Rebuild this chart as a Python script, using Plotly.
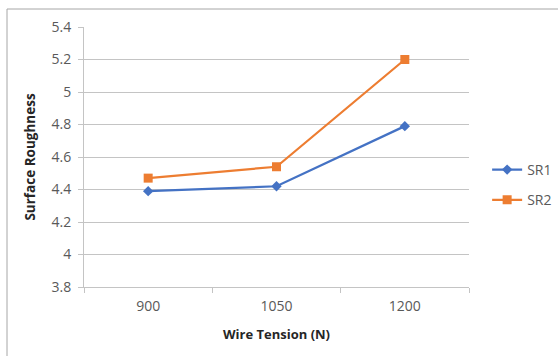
import plotly.graph_objects as go

# Wire tension categories and surface roughness readings
tension = ["900", "1050", "1200"]
sr1 = [4.39, 4.42, 4.79]
sr2 = [4.47, 4.54, 5.20]

y_ticks = [3.8, 4.0, 4.2, 4.4, 4.6, 4.8, 5.0, 5.2, 5.4]
y_tick_text = ["3.8", "4", "4.2", "4.4", "4.6", "4.8", "5", "5.2", "5.4"]

FONT = "Open Sans"
GRID = "#c4c4c4"
TEXT = "#595959"

fig = go.Figure()
fig.add_trace(go.Scatter(
    x=tension, y=sr1, name="SR1", mode="lines+markers", legendgroup="a",
    line=dict(color="#4472C4", width=2.25),
    marker=dict(symbol="diamond", size=8, color="#4472C4"),
))
fig.add_trace(go.Scatter(
    x=tension, y=sr2, name="SR2", mode="lines+markers", legendgroup="b",
    line=dict(color="#ED7D31", width=2.25),
    marker=dict(symbol="square", size=9, color="#ED7D31"),
))

fig.update_layout(
    width=558, height=356,
    margin=dict(l=84, r=89, t=27, b=69, autoexpand=False),
    paper_bgcolor="white", plot_bgcolor="white",
    font=dict(family=FONT, size=13, color=TEXT),
    showlegend=True,
    legend=dict(
        xref="container", yref="container",
        x=0.873, y=1 - 185 / 356, xanchor="left", yanchor="middle",
        font=dict(family=FONT, size=14, color=TEXT),
        tracegroupgap=9, itemwidth=30,
        bgcolor="rgba(0,0,0,0)",
    ),
    xaxis=dict(
        type="category",
        range=[-0.5, 2.5],
        showgrid=False,
        showline=True, linecolor=GRID, linewidth=1,
        ticks="outside", ticklen=5, tickcolor=GRID,
        tickson="boundaries",
        ticklabelstandoff=6,
        tickfont=dict(family=FONT, size=14, color=TEXT),
        title=dict(text="<b>Wire Tension (N)</b>",
                   font=dict(family=FONT, size=13, color="#262626"),
                   standoff=16),
    ),
    yaxis=dict(
        range=[3.8, 5.4],
        tickvals=y_ticks, ticktext=y_tick_text,
        showgrid=True, gridcolor=GRID, gridwidth=1,
        zeroline=False,
        showline=True, linecolor=GRID, linewidth=1,
        ticks="outside", ticklen=5, tickcolor=GRID,
        ticklabelstandoff=4,
        tickfont=dict(family=FONT, size=14, color=TEXT),
        title=dict(text="<b>Surface Roughness</b>",
                   font=dict(family=FONT, size=13.5, color="#262626"),
                   standoff=12),
    ),
)

# Chart frame (top and left edges)
fig.add_shape(type="line", xref="paper", yref="paper",
              x0=-77 / 385, x1=474 / 385, y0=278 / 260, y1=278 / 260,
              line=dict(color="#a6a6a6", width=1))
fig.add_shape(type="line", xref="paper", yref="paper",
              x0=-77 / 385, x1=-77 / 385, y0=278 / 260, y1=-80 / 260,
              line=dict(color="#a6a6a6", width=1))

fig.write_html("out.html")
